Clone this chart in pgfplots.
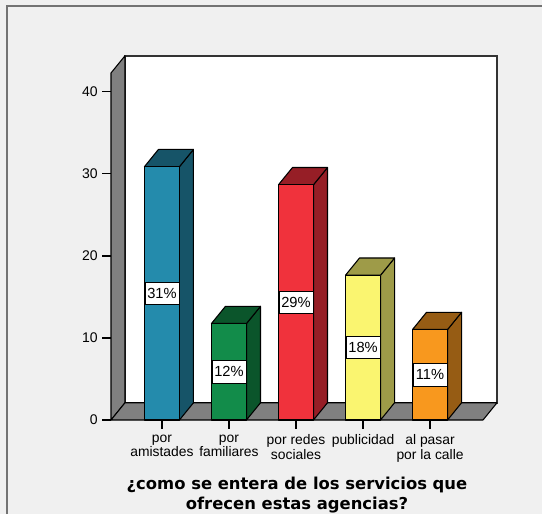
\documentclass[border=0pt]{standalone}
\usepackage{pgfplots}
\pgfplotsset{compat=1.18}
\usepackage{pgfplotstable}
\usepackage{fontspec}
\setmainfont{Liberation Sans}
\newfontfamily\titlefont{DejaVu Sans}

\definecolor{bg}{RGB}{240,240,240}
\definecolor{wallgray}{RGB}{128,128,128}
\definecolor{front0}{RGB}{36,139,172}
\definecolor{side0}{RGB}{22,84,104}
\definecolor{front1}{RGB}{18,140,74}
\definecolor{side1}{RGB}{11,85,43}
\definecolor{front2}{RGB}{240,50,60}
\definecolor{side2}{RGB}{150,30,38}
\definecolor{front3}{RGB}{250,245,112}
\definecolor{side3}{RGB}{158,155,72}
\definecolor{front4}{RGB}{248,152,30}
\definecolor{side4}{RGB}{150,92,20}

\pgfplotstableread{
x v lab
0 30.88 31\%
1 11.76 12\%
2 28.68 29\%
3 17.65 18\%
4 11.03 11\%
}\datatable

\begin{document}
\begin{tikzpicture}
% background and frame (page area 542x514 px, 1px = 0.75pt; origin = front-left floor corner)
\fill[bg] (-83.25pt,-70.5pt) rectangle (323.25pt,315pt);
\useasboundingbox (-83.25pt,-70.5pt) rectangle (323.25pt,315pt);
\draw[black!55, line width=1.5pt] (-78pt,-70.5pt) -- (-78pt,310.6pt) -- (323.25pt,310.6pt);
\begin{axis}[
  at={(0,0)}, anchor=south west,
  scale only axis, width=279pt, height=260.25pt,
  xmin=-0.76, xmax=4.79, ymin=0, ymax=42.3,
  clip=false,
  axis lines*=left,
  axis line style={draw=none},
  tick align=outside,
  major tick length=6.5pt,
  tick style={draw=black, line width=0.9pt},
  minor tick num=0,
  ytick={0,10,20,30,40},
  xtick={0,1,2,3,4},
  xticklabels={{por\\amistades},{por\\familiares},{por redes\\sociales},{publicidad},{al pasar\\por la calle}},
  xticklabel style={align=center, font=\fontsize{10.4}{10.6}\selectfont, inner sep=1pt, yshift=-3.5pt},
  yticklabel style={font=\fontsize{10.5}{11}\selectfont},
  /pgf/number format/assume math mode=true,
  xlabel={¿como se entera de los servicios que\\ofrecen estas agencias?},
  xlabel style={align=center, font=\titlefont\bfseries\fontsize{12.3}{15}\selectfont,
    at={(axis description cs:0.5,-0.165)}, anchor=north, inner sep=0pt},
]
% back plane
\addplot[fill=white, draw=black!80, line width=1.2pt] coordinates {(-0.551,2.1) (4.999,2.1) (4.999,44.4) (-0.551,44.4)} -- cycle;
% left wall
\addplot[fill=wallgray, draw=black, line width=0.8pt, line join=round] coordinates {(-0.76,0) (-0.551,2.1) (-0.551,44.4) (-0.76,42.3)} -- cycle;
% floor
\addplot[fill=wallgray, draw=black, line width=0.8pt, line join=round] coordinates {(-0.76,0) (4.79,0) (4.999,2.1) (-0.551,2.1)} -- cycle;
% bars
\pgfplotsforeachungrouped \i in {0,...,4}{%
  \pgfplotstablegetelem{\i}{v}\of\datatable
  \let\barval\pgfplotsretval
  \pgfmathsetmacro\xl{\i-0.2612}%
  \pgfmathsetmacro\xr{\i+0.2612}%
  \pgfmathsetmacro\xld{\i-0.2612+0.209}%
  \pgfmathsetmacro\xrd{\i+0.2612+0.209}%
  \pgfmathsetmacro\vd{\barval+2.1}%
  \edef\cmd{%
    \noexpand\addplot[fill=side\i, draw=black, line width=0.8pt, line join=round] coordinates {(\xr,0) (\xrd,2.1) (\xrd,\vd) (\xr,\barval)} -- cycle;
    \noexpand\addplot[fill=side\i, draw=black, line width=0.8pt, line join=round] coordinates {(\xl,\barval) (\xld,\vd) (\xrd,\vd) (\xr,\barval)} -- cycle;
    \noexpand\addplot[fill=front\i, draw=black, line width=0.8pt, line join=round] coordinates {(\xl,0) (\xr,0) (\xr,\barval) (\xl,\barval)} -- cycle;
  }\cmd
}
% percentage labels
\addplot[draw=none, mark=none, nodes near coords, point meta=explicit symbolic,
  every node near coord/.append style={anchor=center, fill=white, draw=black, line width=0.6pt,
    minimum width=25.5pt, minimum height=16.8pt, inner sep=1pt, font=\fontsize{11}{12}\selectfont}]
  table[x=x, y expr=\thisrow{v}/2, meta=lab] {\datatable};
\end{axis}
\end{tikzpicture}
\end{document}
